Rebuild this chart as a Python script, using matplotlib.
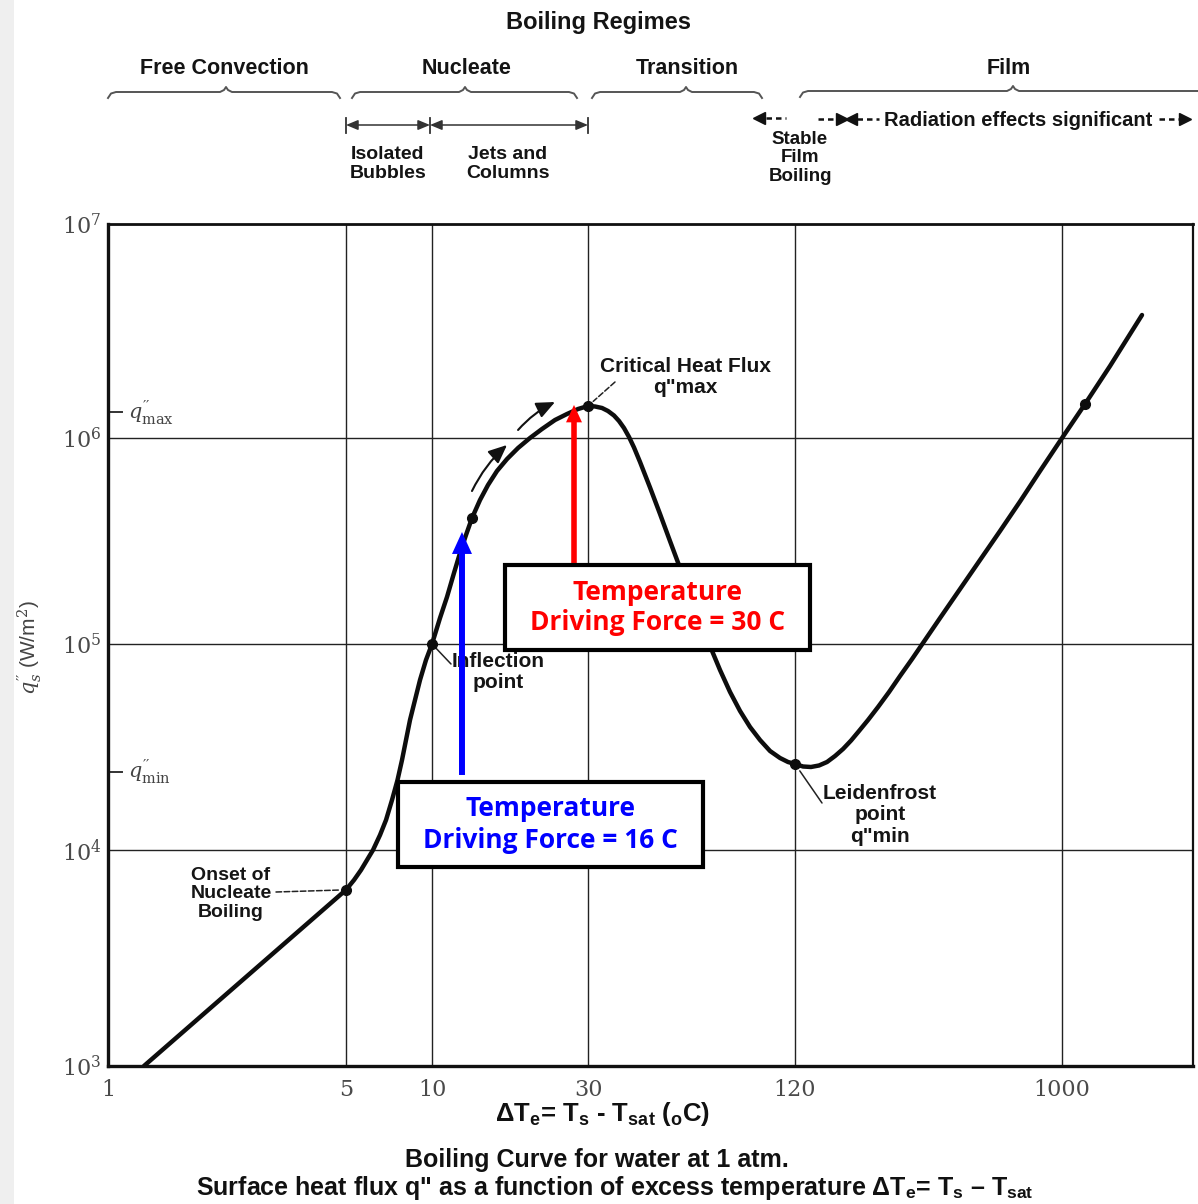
import numpy as np
import matplotlib
matplotlib.use("Agg")
import matplotlib.pyplot as plt
from matplotlib import font_manager
from matplotlib.lines import Line2D
from matplotlib.patches import Rectangle, FancyArrowPatch

# ---------------- data ----------------
delta_T = [1.275, 5.0, 5.333, 5.643, 5.923, 6.216, 6.577, 6.903, 7.244, 7.573, 7.852, 8.109, 8.375, 8.719,
           9.078, 9.526, 10.0,
           10.579, 11.113, 11.674, 12.178, 12.704, 13.253, 14.021, 14.833, 15.803, 16.962, 18.33, 19.935,
           21.696, 23.776, 25.87, 27.96, 30.0,
           31.44, 32.95, 34.29, 35.70, 36.92, 38.17, 39.48, 40.82, 42.50, 45.44, 48.59, 51.94, 55.55, 59.39,
           63.51, 67.90, 72.61, 77.65, 83.03, 88.77, 94.91, 101.5, 108.5, 114.5, 120.0,
           127.9, 136.2, 145.2, 154.7, 164.9, 175.7, 187.3, 199.5, 214.3, 232.0, 253.2, 276.3, 304.0, 337.0,
           379.6, 444.9, 521.4, 611.2, 716.3, 839.7, 1000.0, 1200.7, 1464.0, 1887.0]
heat_flux = [1000, 6540, 7262, 8080, 8990, 10000, 11824, 13984, 17486, 21868, 27348, 34198, 42768, 53478,
             66873, 83623, 100000,
             133730, 169170, 221200, 276500, 338100, 408900, 500000, 591200, 691600, 790700, 894300, 1.0e6,
             1.1017e6, 1.2137e6, 1.2945e6, 1.366e6, 1.4111e6,
             1.4036e6, 1.3810e6, 1.3372e6, 1.2738e6, 1.2006e6, 1.1135e6, 1.0108e6, 899200, 764800, 575000,
             427700, 316200, 233900, 173900, 130100, 97790, 74780, 58480, 47300, 39550, 34200, 30240, 27970,
             26740, 26150,
             25430, 25290, 25720, 26740, 28600, 30930, 34010, 37830, 42770, 49450, 58480, 69950, 84570, 104600,
             133700, 184900, 255700, 353600, 491700, 691600, 1.0e6, 1.4421e6, 2.170e6, 3.756e6]

marker_T = [5.0, 10.0, 13.253, 30.0, 120.0, 1200.7]
marker_q = [6540, 100000, 408900, 1.4111e6, 26150, 1.4421e6]

x_ticks = [1, 5, 10, 30, 120, 1000]
x_tick_labels = ["1", "5", "10", "30", "120", "1000"]
y_ticks = [1e3, 1e4, 1e5, 1e6, 1e7]
y_tick_labels = [r"$\mathrm{10^{3}}$", r"$\mathrm{10^{4}}$", r"$\mathrm{10^{5}}$", r"$\mathrm{10^{6}}$",
                 r"$\mathrm{10^{7}}$"]
x_max = 2829
q_max_level = 1.32e6
q_min_level = 23910

blue_T, blue_q0, blue_q1 = 12.35, 23130, 349700
red_T, red_q0, red_q1 = 27.18, 247400, 1.4266e6

flow_arrows = [((13.25, 552900), (16.96, 924800)), ((18.33, 1.09e6), (23.78, 1.473e6))]

regimes = ["Free Convection", "Nucleate", "Transition", "Film"]

# ---------------- fonts ----------------
names = {f.name for f in font_manager.fontManager.ttflist}
NARROW = "Liberation Sans Narrow" if "Liberation Sans Narrow" in names else "Liberation Sans"
SANS = "Liberation Sans"
SERIF = "DejaVu Serif"
BOXFONT = "Open Sans"
plt.rcParams["mathtext.fontset"] = "custom"
plt.rcParams["mathtext.rm"] = SERIF
plt.rcParams["mathtext.it"] = SERIF + ":italic"
plt.rcParams["mathtext.bf"] = NARROW + ":bold"
plt.rcParams["mathtext.sf"] = SANS

W, H = 1198, 1204
fig = plt.figure(figsize=(W / 100, H / 100), dpi=100)
fig.patch.set_facecolor("white")


def fx(px):
    return px / W


def fy(py):
    return 1 - py / H


def fline(xs, ys, **kw):
    fig.add_artist(Line2D([fx(x) for x in xs], [fy(y) for y in ys], transform=fig.transFigure, **kw))


def ftext(px, py, s, **kw):
    kw.setdefault("ha", "center")
    kw.setdefault("va", "center")
    return fig.text(fx(px), fy(py), s, **kw)


# The original is a schematic log-log chart whose decades are not evenly spaced:
# build a piecewise-logarithmic scale through the labelled tick positions.
def schematic_log_scale(vals, pos):
    lv = np.log10(np.asarray(vals, float))
    pos = np.asarray(pos, float)
    s_lo = (pos[1] - pos[0]) / (lv[1] - lv[0])
    s_hi = (pos[-1] - pos[-2]) / (lv[-1] - lv[-2])

    def fwd(v):
        v = np.asarray(v, float)
        lg = np.log10(np.clip(v, 1e-300, None))
        out = np.interp(lg, lv, pos)
        out = np.where(lg < lv[0], pos[0] + (lg - lv[0]) * s_lo, out)
        out = np.where(lg > lv[-1], pos[-1] + (lg - lv[-1]) * s_hi, out)
        return out

    def inv(p):
        p = np.asarray(p, float)
        lg = np.interp(p, pos, lv)
        lg = np.where(p < pos[0], lv[0] + (p - pos[0]) / s_lo, lg)
        lg = np.where(p > pos[-1], lv[-1] + (p - pos[-1]) / s_hi, lg)
        return 10.0 ** lg

    return fwd, inv


# light grey strip at left edge
fig.add_artist(Rectangle((0, 0), fx(14), 1, transform=fig.transFigure, facecolor="#efefef",
                         edgecolor="none", zorder=0))

ax = fig.add_axes([fx(108), fy(1066), fx(1193) - fx(108), fy(224) - fy(1066)])
ax.set_xscale("function", functions=schematic_log_scale(x_ticks, [0, 238, 324, 480, 687, 954]))
ax.set_yscale("function", functions=schematic_log_scale(y_ticks, [0, 216, 422, 628, 842]))
ax.set_xlim(1, x_max)
ax.set_ylim(1e3, 1e7)
ax.set_xticks(x_ticks)
ax.set_xticklabels(x_tick_labels)
ax.set_yticks(y_ticks)
ax.set_yticklabels(y_tick_labels)
ax.xaxis.set_minor_locator(matplotlib.ticker.NullLocator())
ax.yaxis.set_minor_locator(matplotlib.ticker.NullLocator())
ax.tick_params(length=0, labelsize=16, labelcolor="#4a4a4a", labelfontfamily=SERIF)
ax.tick_params(axis="x", pad=9)
ax.tick_params(axis="y", pad=5)
ax.grid(True, color="#222222", lw=1.0)
for side, lw in (("left", 2.4), ("bottom", 2.4), ("top", 2.0), ("right", 1.6)):
    ax.spines[side].set_linewidth(lw)
    ax.spines[side].set_color("#111111")

# boiling curve
ax.plot(delta_T, heat_flux, color="#0d0d0d", lw=3.2, solid_joinstyle="round", solid_capstyle="round", zorder=3)
ax.plot(marker_T, marker_q, "o", color="#0d0d0d", ms=7, zorder=4)

# flow arrows along the nucleate branch
for (a, b) in flow_arrows:
    ax.annotate("", xy=b, xytext=a, xycoords="data",
                arrowprops=dict(arrowstyle="-|>,head_length=0.8,head_width=0.35", mutation_scale=14,
                                lw=1.5, color="#111111", shrinkA=0, shrinkB=0,
                                connectionstyle="arc3,rad=-0.1"), zorder=4)

# q''max / q''min markers on y axis
for lvl, lab in ((q_max_level, r"$q^{\prime\prime}_{\mathrm{max}}$"),
                 (q_min_level, r"$q^{\prime\prime}_{\mathrm{min}}$")):
    ax.plot([0.0, 0.013], [lvl, lvl], color="#333333", lw=1.4, transform=ax.get_yaxis_transform(), clip_on=False)
    ax.text(0.018, lvl, lab, transform=ax.get_yaxis_transform(), fontsize=15, color="#444444",
            ha="left", va="center")

# temperature driving force arrows
ax.annotate("", xy=(blue_T, blue_q1), xytext=(blue_T, blue_q0),
            arrowprops=dict(arrowstyle="simple,head_length=15.8,head_width=14.4,tail_width=4.3",
                            mutation_scale=1, color="#0000ff", lw=0, shrinkA=0, shrinkB=0), zorder=6)
ax.annotate("", xy=(red_T, red_q1), xytext=(red_T, red_q0),
            arrowprops=dict(arrowstyle="simple,head_length=12.5,head_width=11.5,tail_width=4.0",
                            mutation_scale=1, color="#ff0000", lw=0, shrinkA=0, shrinkB=0), zorder=6)

# curve annotations (text inside plot, below arrows)
lab_kw = dict(fontsize=15, fontweight="bold", family=SANS, color="#151515", ha="center", va="center",
              transform=fig.transFigure, linespacing=1.15, zorder=5)
ax.text(fx(685), fy(377), "Critical Heat Flux\nq\"max", **lab_kw)
ax.text(fx(498), fy(672), "Inflection\npoint", **lab_kw)
ax.text(fx(231), fy(894), "Onset of\nNucleate\nBoiling", **dict(lab_kw, fontsize=14))
ax.text(fx(880), fy(815), "Leidenfrost\npoint\nq\"min", **lab_kw)

lead_kw = dict(arrowstyle="-", lw=1.1, color="#222222", shrinkA=0)
ax.annotate("", xy=(30.0, 1.4111e6), xytext=(fx(615), fy(382)), textcoords="figure fraction",
            arrowprops=dict(lead_kw, ls="--", shrinkB=5))
ax.annotate("", xy=(10.0, 100000), xytext=(fx(451), fy(664)), textcoords="figure fraction",
            arrowprops=dict(lead_kw, shrinkB=4))
ax.annotate("", xy=(5.0, 6540), xytext=(fx(276), fy(892)), textcoords="figure fraction",
            arrowprops=dict(lead_kw, ls="--", shrinkB=5))
ax.annotate("", xy=(120.0, 26150), xytext=(fx(822), fy(803)), textcoords="figure fraction",
            arrowprops=dict(lead_kw, shrinkB=6))

# text boxes
for (x0, y0, x1, y1, col, val) in ((505, 565, 810, 650, "#ff0000", "30"), (398, 782, 703, 867, "#0000ff", "16")):
    fig.add_artist(Rectangle((fx(x0), fy(y1)), fx(x1) - fx(x0), fy(y0) - fy(y1), transform=fig.transFigure,
                             facecolor="white", edgecolor="black", lw=3.0, zorder=5))
    cx = (x0 + x1) / 2
    ftext(cx, y0 + 27, "Temperature", fontsize=19, fontweight="bold", family=BOXFONT, color=col, zorder=6)
    ftext(cx, y0 + 58, f"Driving Force = {val} C", fontsize=19, fontweight="bold", family=BOXFONT,
          color=col, zorder=6)

# axis labels and caption
ftext(30, 648, r"$q_s^{\prime\prime}$ (W/m$^2$)", rotation=90, fontsize=15, color="#444444", family=SANS)
ftext(603, 1114, r"ΔT$_\mathbf{e}$= T$_\mathbf{s}$ - T$_\mathbf{sat}$ ($_\mathbf{o}$C)", fontsize=18.5,
      fontweight="bold", family=NARROW, color="#111111")
ftext(597, 1160, "Boiling Curve for water at 1 atm.", fontsize=18, fontweight="bold", family=NARROW,
      color="#111111")
ftext(615, 1188, r'Surface heat flux q" as a function of excess temperature ΔT$_\mathbf{e}$= T$_\mathbf{s}$ – T$_\mathbf{sat}$',
      fontsize=18, fontweight="bold", family=NARROW, color="#111111")

# ---------------- regime header ----------------
hdr = dict(fontweight="bold", family=SANS, color="#141414")
ftext(598, 22, "Boiling Regimes", fontsize=17, **hdr)
for name, cx in zip(regimes, (224, 467, 687, 1009)):
    ftext(cx, 68, name, fontsize=15.5, **hdr)


def brace(x0, x1, xm, y):
    xs = [x0, x0 + 3, x0 + 8, xm - 6, xm - 2, xm, xm + 2, xm + 6, x1 - 8, x1 - 3, x1]
    ys = [y + 6, y + 1.5, y, y, y - 2, y - 5, y - 2, y, y, y + 1.5, y + 6]
    fline(xs, ys, color="#555555", lw=1.4, solid_joinstyle="round")


brace(108, 340, 226, 92)
brace(352, 577, 465, 92)
brace(592, 762, 686, 92)
brace(800, 1206, 1013, 91)

# nucleate sub-regimes
for bx in (346, 430, 588):
    fline([bx, bx], [118, 133], color="#333333", lw=1.3)
for (a, b) in ((346, 430), (430, 588)):
    fig.add_artist(FancyArrowPatch((fx(a), fy(125)), (fx(b), fy(125)), transform=fig.transFigure,
                                   arrowstyle="<|-|>,head_length=0.6,head_width=0.25", mutation_scale=12,
                                   lw=1.1, color="#333333", shrinkA=0, shrinkB=0))
sub_kw = dict(fontsize=14, linespacing=1.15, **hdr)
ftext(388, 164, "Isolated\nBubbles", **sub_kw)
ftext(508, 164, "Jets and\nColumns", **sub_kw)

# film sub-regimes
dash = dict(color="#111111", lw=1.8, ls=(0, (2.2, 1.6)))
fline([766, 786], [118, 118], **dash)
fline([759], [118], marker="<", ms=8, color="#111111", ls="none")
fline([818, 838], [119, 119], **dash)
fline([842], [119], marker=">", ms=8, color="#111111", ls="none")
fline([851], [119], marker="<", ms=8, color="#111111", ls="none")
fline([857, 879], [119, 119], **dash)
ftext(1018, 121, "Radiation effects significant", fontsize=14.5, **hdr)
fline([1159, 1180], [119, 119], **dash)
fline([1185], [119], marker=">", ms=8, color="#111111", ls="none")
ftext(800, 158, "Stable\nFilm\nBoiling", fontsize=13.5, linespacing=1.15, **hdr)

fig.savefig("out.png", dpi=100)
